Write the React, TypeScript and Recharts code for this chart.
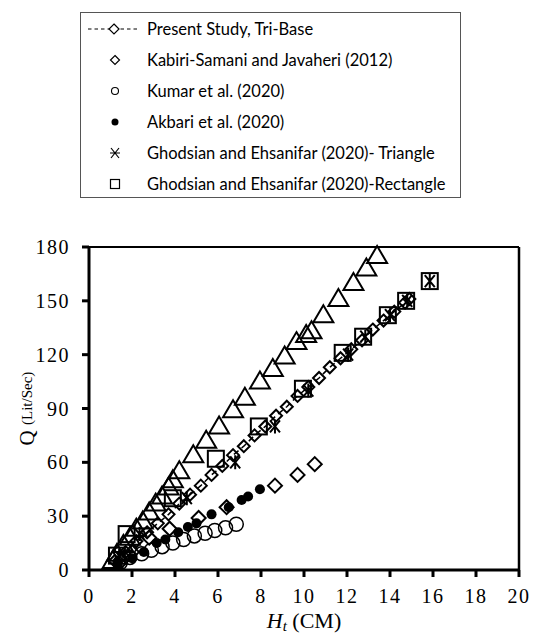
import React from 'react';
import { ScatterChart, Scatter, XAxis, YAxis, ReferenceLine, Label } from 'recharts';

// Present Study, Tri-Base (dashed line + diamonds)
const presentH = [1.2, 1.7, 2.2, 2.7, 3.2, 3.7, 4.2, 4.7, 5.2, 5.7, 6.2, 6.7, 7.2, 7.7, 8.2, 8.7, 9.2, 9.7, 10.2, 10.7, 11.2, 11.7, 12.2, 12.7, 13.2, 13.7, 14.2, 14.7, 14.9];
const presentQ = [5, 10, 16, 21, 26, 31, 37, 42, 47, 53, 58, 64, 69, 75, 80, 86, 91, 97, 102, 107, 113, 118, 123, 128, 134, 139, 144, 149, 151];

// triangles (no legend entry)
const triH = [1.1, 1.3, 1.6, 1.9, 2.2, 2.5, 2.8, 3.1, 3.4, 3.7, 3.9, 4.2, 4.85, 5.45, 6.05, 6.7, 7.25, 7.95, 8.55, 9.1, 9.65, 10.1, 10.35, 10.9, 11.6, 12.3, 12.9, 13.4];
const triQ = [5, 9, 14, 18, 23, 27, 32, 37, 41, 46, 50, 55, 64, 72, 80, 89, 96, 105, 112, 119, 127, 131, 133, 142, 151, 160, 168, 175];

const kabiriH = [1.5, 2.0, 2.8, 3.75, 5.1, 6.4, 8.65, 9.7, 10.5];
const kabiriQ = [5, 10, 18, 23, 29, 35, 47, 53, 59];

const kumarH = [1.45, 1.9, 2.45, 2.9, 3.4, 3.9, 4.4, 4.9, 5.4, 5.85, 6.35, 6.85];
const kumarQ = [4, 7, 9, 11, 13, 15, 17, 19, 20.5, 22, 23.5, 25.5];

const akbariH = [1.35, 2.0, 2.55, 3.15, 3.55, 4.15, 4.6, 5.0, 5.7, 6.5, 7.1, 7.4, 7.95];
const akbariQ = [4, 6.5, 10, 15, 17, 21, 24, 26, 31, 35, 39, 41, 45];

const ghodTriH = [1.4, 2.35, 4.55, 6.8, 8.65, 10.2, 12.05, 12.85, 14.0, 14.8, 15.85];
const ghodTriQ = [8, 20, 40, 60, 80, 100, 120, 130, 142, 150, 161];

const ghodRectH = [1.3, 1.75, 3.9, 5.9, 7.9, 9.95, 11.8, 12.75, 13.9, 14.75, 15.85];
const ghodRectQ = [8, 20, 40, 62, 80, 101, 121, 130, 142, 150, 161];

const xTicks = [0, 2, 4, 6, 8, 10, 12, 14, 16, 18, 20];
const yTicks = [0, 30, 60, 90, 120, 150, 180];

const legendItems = [
  { label: 'Present Study, Tri-Base', kind: 'line' },
  { label: 'Kabiri-Samani and Javaheri (2012)', kind: 'diamond' },
  { label: 'Kumar et al. (2020)', kind: 'circle' },
  { label: 'Akbari et al. (2020)', kind: 'dot' },
  { label: 'Ghodsian and Ehsanifar (2020)- Triangle', kind: 'star' },
  { label: 'Ghodsian and Ehsanifar (2020)-Rectangle', kind: 'square' },
];

const pts = (xs: number[], ys: number[]) => xs.map((x, i) => ({ x, y: ys[i] }));

const serif = '"Liberation Serif", "Times New Roman", serif';

const Diamond = (r: number) => (p: any) => (
  <path d={`M${p.cx},${p.cy - r}L${p.cx + r},${p.cy}L${p.cx},${p.cy + r}L${p.cx - r},${p.cy}Z`} fill="none" stroke="#000" strokeWidth={2} />
);
const Triangle = (p: any) => (
  <path d={`M${p.cx},${p.cy - 10}L${p.cx + 10},${p.cy + 7}L${p.cx - 10},${p.cy + 7}Z`} fill="none" stroke="#000" strokeWidth={2} />
);
const OpenCircle = (p: any) => <circle cx={p.cx} cy={p.cy} r={7} fill="none" stroke="#000" strokeWidth={1.5} />;
const Dot = (p: any) => <circle cx={p.cx} cy={p.cy} r={5} fill="#000" />;
const Square = (p: any) => <rect x={p.cx - 8} y={p.cy - 8} width={16} height={16} fill="none" stroke="#000" strokeWidth={2} />;
const Star = (p: any) => (
  <path d={`M${p.cx - 5},${p.cy - 6}L${p.cx + 5},${p.cy + 6}M${p.cx + 5},${p.cy - 6}L${p.cx - 5},${p.cy + 6}M${p.cx},${p.cy - 7}L${p.cx},${p.cy + 7}`} stroke="#000" strokeWidth={2} fill="none" />
);

const LegendIcon = ({ kind }: { kind: string }) => {
  const c = 'black';
  if (kind === 'line') {
    return (
      <svg width={54} height={14}>
        <line x1={1} y1={7} x2={53} y2={7} stroke={c} strokeWidth={1} strokeDasharray="3.5 3" />
        <path d="M27,2L32,7L27,12L22,7Z" fill="white" stroke={c} strokeWidth={1.2} />
      </svg>
    );
  }
  return (
    <svg width={54} height={14}>
      <g transform="translate(28,7)">
        {kind === 'diamond' && <path d="M0,-4.5L4.5,0L0,4.5L-4.5,0Z" fill="none" stroke={c} strokeWidth={1.2} />}
        {kind === 'circle' && <circle r={3.5} fill="none" stroke={c} strokeWidth={1.1} />}
        {kind === 'dot' && <circle r={3.5} fill={c} />}
        {kind === 'star' && <path d="M-4,-5L4,5M4,-5L-4,5M-5,0L5,0" stroke={c} strokeWidth={1.2} />}
        {kind === 'square' && <rect x={-4.5} y={-4.5} width={9} height={9} fill="none" stroke={c} strokeWidth={1.2} />}
      </g>
    </svg>
  );
};

const XTick = (p: any) => (
  <text x={p.x} y={p.y} dy="0.71em" textAnchor="middle" fontFamily={serif} fontSize={20} letterSpacing={1.5} fill="#000">
    {p.payload.value}
  </text>
);
const YTick = (p: any) => (
  <text x={p.x} y={p.y} dy="0.355em" textAnchor="end" fontFamily={serif} fontSize={20} letterSpacing={1.5} fill="#000">
    {p.payload.value}
  </text>
);

const YLabel = (props: any) => {
  const vb = props.viewBox;
  const cy = vb.y + vb.height / 2;
  const cx = 27;
  return (
    <text x={cx} y={cy} transform={`rotate(-90 ${cx} ${cy})`} textAnchor="middle" dominantBaseline="central" fontFamily={serif} fill="#000">
      <tspan fontSize={21}>Q </tspan>
      <tspan fontSize={15}>(Lit/Sec)</tspan>
    </text>
  );
};

const XLabel = (props: any) => {
  const vb = props.viewBox;
  const cx = vb.x + vb.width / 2;
  return (
    <text x={cx} y={628} textAnchor="middle" fontFamily={serif} fontSize={22} fill="#000">
      <tspan fontStyle="italic">H</tspan>
      <tspan fontStyle="italic" fontSize={15} dy={3}>t</tspan>
      <tspan dy={-3}> (CM)</tspan>
    </text>
  );
};

export default function App() {
  return (
    <div style={{ position: 'absolute', left: 0, top: 0, width: 533, height: 636, background: '#fff', fontFamily: serif }}>
      <div
        style={{
          position: 'absolute',
          left: 80,
          top: 12,
          width: 381,
          height: 186,
          border: '1px solid #555',
          boxSizing: 'border-box',
          fontFamily: 'Lato, "Liberation Sans", sans-serif',
          fontSize: 16.5,
          color: '#000',
        }}
      >
        {legendItems.map((it) => (
          <div key={it.label} style={{ display: 'flex', alignItems: 'center', height: 31, whiteSpace: 'nowrap' }}>
            <div style={{ width: 66, display: 'flex', justifyContent: 'center' }}>
              <LegendIcon kind={it.kind} />
            </div>
            <span>{it.label}</span>
          </div>
        ))}
      </div>
      <ScatterChart width={533} height={636} margin={{ top: 247, right: 14, bottom: 26, left: 29 }}>
        <XAxis
          type="number"
          dataKey="x"
          domain={[0, 20]}
          ticks={xTicks}
          interval={0}
          tick={XTick}
          tickSize={7}
          tickMargin={12}
          height={40}
          axisLine={{ stroke: '#000', strokeWidth: 3 }}
          tickLine={{ stroke: '#000', strokeWidth: 3 }}
        >
          <Label content={XLabel} />
        </XAxis>
        <YAxis
          type="number"
          dataKey="y"
          domain={[0, 180]}
          ticks={yTicks}
          interval={0}
          tick={YTick}
          tickSize={7}
          tickMargin={12}
          width={60}
          axisLine={{ stroke: '#000', strokeWidth: 3 }}
          tickLine={{ stroke: '#000', strokeWidth: 3 }}
        >
          <Label content={YLabel} />
        </YAxis>
        <ReferenceLine y={180} stroke="#000" strokeWidth={2} />
        <ReferenceLine x={20} stroke="#000" strokeWidth={2.5} />
        <Scatter name="Triangles" data={pts(triH, triQ)} shape={Triangle} isAnimationActive={false} />
        <Scatter name="Kabiri-Samani and Javaheri (2012)" data={pts(kabiriH, kabiriQ)} shape={Diamond(7)} isAnimationActive={false} />
        <Scatter name="Kumar et al. (2020)" data={pts(kumarH, kumarQ)} shape={OpenCircle} isAnimationActive={false} />
        <Scatter name="Akbari et al. (2020)" data={pts(akbariH, akbariQ)} shape={Dot} isAnimationActive={false} />
        <Scatter
          name="Present Study, Tri-Base"
          data={pts(presentH, presentQ)}
          shape={Diamond(6)}
          line={{ stroke: '#000', strokeWidth: 1.5, strokeDasharray: '6 4' }}
          lineType="joint"
          isAnimationActive={false}
        />
        <Scatter name="Ghodsian and Ehsanifar (2020)- Triangle" data={pts(ghodTriH, ghodTriQ)} shape={Star} isAnimationActive={false} />
        <Scatter name="Ghodsian and Ehsanifar (2020)-Rectangle" data={pts(ghodRectH, ghodRectQ)} shape={Square} isAnimationActive={false} />
      </ScatterChart>
    </div>
  );
}
